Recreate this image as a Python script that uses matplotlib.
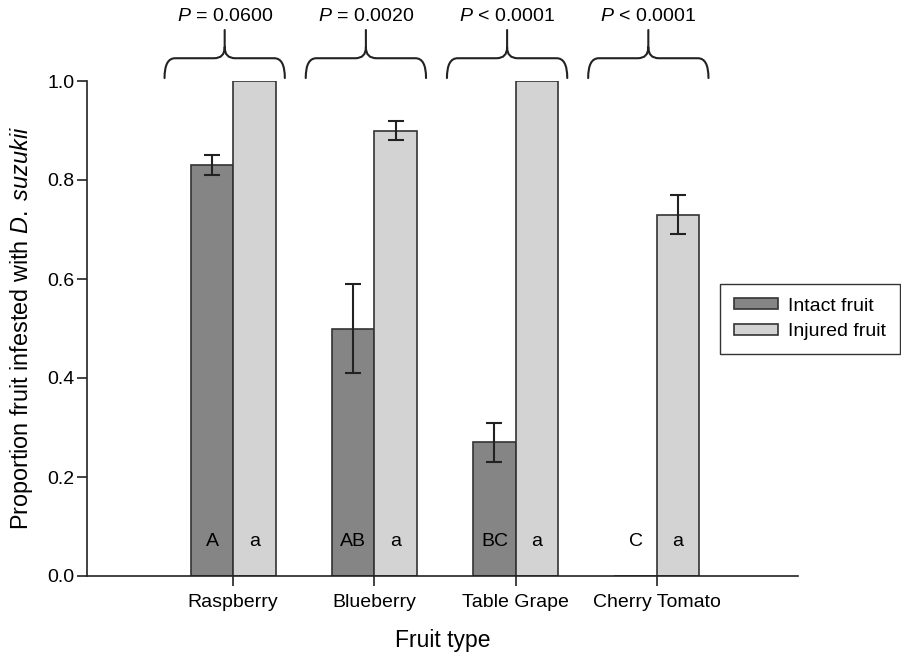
import matplotlib.pyplot as plt
from matplotlib.path import Path
from matplotlib.patches import PathPatch
import numpy as np

plt.rcParams['font.family'] = ['Liberation Sans', 'DejaVu Sans']
plt.rcParams['mathtext.fontset'] = 'custom'
plt.rcParams['mathtext.rm'] = 'Liberation Sans'
plt.rcParams['mathtext.it'] = 'Liberation Sans:italic'

# data
fruits = ['Raspberry', 'Blueberry', 'Table Grape', 'Cherry Tomato']
intact = [0.83, 0.50, 0.27, 0.0]
intact_err = [0.02, 0.09, 0.04, 0.0]
injured = [1.0, 0.90, 1.0, 0.73]
injured_err = [0.0, 0.02, 0.0, 0.04]
intact_letters = ['A', 'AB', 'BC', 'C']
injured_letters = ['a', 'a', 'a', 'a']
p_signs = ['=', '=', '<', '<']
p_values = ['0.0600', '0.0020', '0.0001', '0.0001']

dark = '#858585'
light = '#d3d3d3'
edge = '#333333'


def brace(ax, xc, half, yb, yh, ym, yt, rx):
    xl, xr = xc - half, xc + half
    verts = [(xl, yb), (xl, yh), (xl + rx, yh), (xc - rx, yh), (xc, yh), (xc, ym), (xc, yt),
             (xr, yb), (xr, yh), (xr - rx, yh), (xc + rx, yh), (xc, yh), (xc, ym)]
    codes = [Path.MOVETO, Path.CURVE3, Path.CURVE3, Path.LINETO, Path.CURVE3, Path.CURVE3, Path.LINETO,
             Path.MOVETO, Path.CURVE3, Path.CURVE3, Path.LINETO, Path.CURVE3, Path.CURVE3]
    patch = PathPatch(Path(verts, codes), facecolor='none', edgecolor='#222222', lw=1.5,
                      clip_on=False, capstyle='round')
    ax.add_patch(patch)


fig = plt.figure(figsize=(9.01, 6.59), dpi=100)
ax = fig.add_axes([87 / 901, 1 - 576 / 659, (798 - 87) / 901, (576 - 81) / 659])

x = np.arange(len(fruits))
w = 0.30
ekw = dict(ecolor='#222222', elinewidth=1.5, capsize=5.6, capthick=1.5)
ax.bar(x - w / 2, intact, w, color=dark, edgecolor=edge, linewidth=1.2, label='Intact fruit')
ax.bar(x + w / 2, injured, w, color=light, edgecolor=edge, linewidth=1.2, label='Injured fruit')
for i in range(len(fruits)):
    if intact_err[i] > 0:
        ax.errorbar(x[i] - w / 2, intact[i], yerr=intact_err[i], fmt='none', **ekw)
    if injured_err[i] > 0:
        ax.errorbar(x[i] + w / 2, injured[i], yerr=injured_err[i], fmt='none', **ekw)
    ax.text(x[i] - w / 2, 0.07, intact_letters[i], ha='center', va='center', fontsize=14)
    ax.text(x[i] + w / 2, 0.07, injured_letters[i], ha='center', va='center', fontsize=14)
    xc = x[i] - 0.06
    brace(ax, xc, 0.426, 1.006, 1.046, 1.068, 1.103, 0.075)
    ax.text(xc, 1.13, r'$P$ ' + p_signs[i] + ' ' + p_values[i], ha='center', va='center',
            fontsize=14, clip_on=False)

ax.set_xlim(-1.035, 4.0)
ax.set_ylim(0, 1.0)
ax.set_xticks(x)
ax.set_xticklabels(fruits, fontsize=14)
ax.set_yticks([0, 0.2, 0.4, 0.6, 0.8, 1.0])
ax.set_yticklabels(['0.0', '0.2', '0.4', '0.6', '0.8', '1.0'], fontsize=14)
ax.tick_params(axis='x', length=7, width=1.2, pad=6, color='#222222')
ax.tick_params(axis='y', length=7, width=1.2, pad=2, color='#222222')
ax.spines['top'].set_visible(False)
ax.spines['right'].set_visible(False)
for s in ['left', 'bottom']:
    ax.spines[s].set_linewidth(1.2)
    ax.spines[s].set_color('#222222')

ax.set_xlabel('Fruit type', fontsize=16.5, labelpad=13)
ax.set_ylabel(r'Proportion fruit infested with $D.\ suzukii$', fontsize=16.8, labelpad=9)

fig.legend(loc='upper left', bbox_to_anchor=(720 / 901, 1 - 284 / 659), fontsize=14,
           frameon=True, fancybox=False, edgecolor='#333333', framealpha=1,
           handlelength=2.3, handleheight=0.5, handletextpad=0.5, borderpad=0.7,
           labelspacing=0.45, borderaxespad=0)

fig.savefig('out.png', dpi=100)
